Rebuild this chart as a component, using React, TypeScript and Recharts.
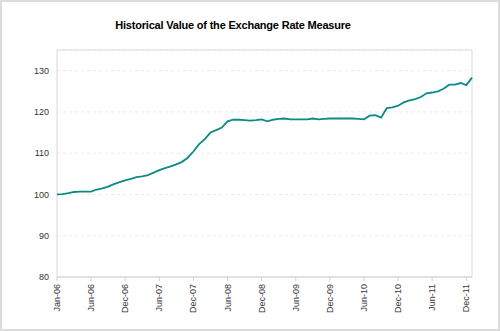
import React from "react";
import {
  CartesianGrid,
  Line,
  LineChart,
  ReferenceArea,
  XAxis,
  YAxis,
} from "recharts";

// monthly index values, Jan-06 .. Jan-12
const values = [
  100.0, 100.1, 100.3, 100.6, 100.7, 100.7, 100.7, 101.2, 101.5, 101.9,
  102.5, 103.0, 103.4, 103.8, 104.2, 104.4, 104.7, 105.3, 105.9, 106.4,
  106.8, 107.3, 107.9, 108.9, 110.4, 112.2, 113.4, 115.0, 115.6, 116.2,
  117.7, 118.1, 118.1, 118.0, 117.9, 118.0, 118.2, 117.7, 118.1, 118.3,
  118.4, 118.2, 118.2, 118.2, 118.2, 118.4, 118.2, 118.3, 118.4, 118.4,
  118.4, 118.4, 118.4, 118.3, 118.2, 119.1, 119.2, 118.6, 120.9, 121.1,
  121.5, 122.3, 122.8, 123.1, 123.6, 124.5, 124.7, 125.0, 125.6, 126.6,
  126.6, 127.0, 126.5, 128.3,
];

const tickLabels = [
  "Jan-06", "Jun-06", "Dec-06", "Jun-07", "Dec-07", "Jun-08", "Dec-08",
  "Jun-09", "Dec-09", "Jun-10", "Dec-10", "Jun-11", "Dec-11",
];
const tickIndex = tickLabels.map((_, i) => i * 6);
const yTicks = [80, 90, 100, 110, 120, 130];

const data = values.map((v, i) => ({ idx: i, value: v }));

const font = "'Liberation Sans', Arial, sans-serif";

function XTick(props: any) {
  const { x, y, payload } = props;
  const label = tickLabels[payload.value / 6];
  return (
    <g transform={`translate(${x},${y})`}>
      <text
        x={0}
        y={0}
        dy={3}
        textAnchor="end"
        transform="rotate(-90)"
        fontSize={9}
        fontFamily={font}
        fill="#333"
      >
        {label}
      </text>
    </g>
  );
}

export default function App() {
  return (
    <div
      style={{
        position: "absolute",
        left: 0,
        top: 0,
        width: 500,
        height: 331,
        background: "#fff",
        border: "2px solid #dcdcdc",
        boxSizing: "border-box",
        overflow: "hidden",
      }}
    >
      <div
        style={{
          position: "absolute",
          left: -2,
          top: 17,
          width: 466,
          textAlign: "center",
          fontFamily: font,
          fontWeight: "bold",
          fontSize: 11,
          letterSpacing: -0.2,
          lineHeight: "12px",
          color: "#000",
        }}
      >
        Historical Value of the Exchange Rate Measure
      </div>
      <div style={{ position: "absolute", left: -2, top: -2 }}>
        <LineChart
          width={500}
          height={331}
          data={data}
          margin={{ top: 50, right: 28, left: 7, bottom: 14 }}
        >
          <CartesianGrid
            vertical={false}
            strokeDasharray="3 3"
            stroke="#ebebeb"
          />
          <ReferenceArea
            x1={0}
            x2={73}
            y1={80}
            y2={135}
            fill="none"
            stroke="#d9d9d9"
            strokeWidth={1}
            ifOverflow="visible"
          />
          <XAxis
            dataKey="idx"
            type="number"
            domain={[0, 73]}
            ticks={tickIndex}
            interval={0}
            height={40}
            tick={<XTick />}
            tickSize={4}
            tickMargin={3}
            tickLine={{ stroke: "#d0d0d0" }}
            axisLine={{ stroke: "#d9d9d9" }}
          />
          <YAxis
            domain={[80, 135]}
            ticks={yTicks}
            width={50}
            tickSize={0}
            tickMargin={8}
            axisLine={false}
            tickLine={false}
            tick={{ fontSize: 9, fontFamily: font, fill: "#333" }}
            allowDataOverflow
          />
          <Line
            type="linear"
            dataKey="value"
            stroke="#0e8a86"
            strokeWidth={1.8}
            dot={false}
            isAnimationActive={false}
          />
        </LineChart>
      </div>
    </div>
  );
}
